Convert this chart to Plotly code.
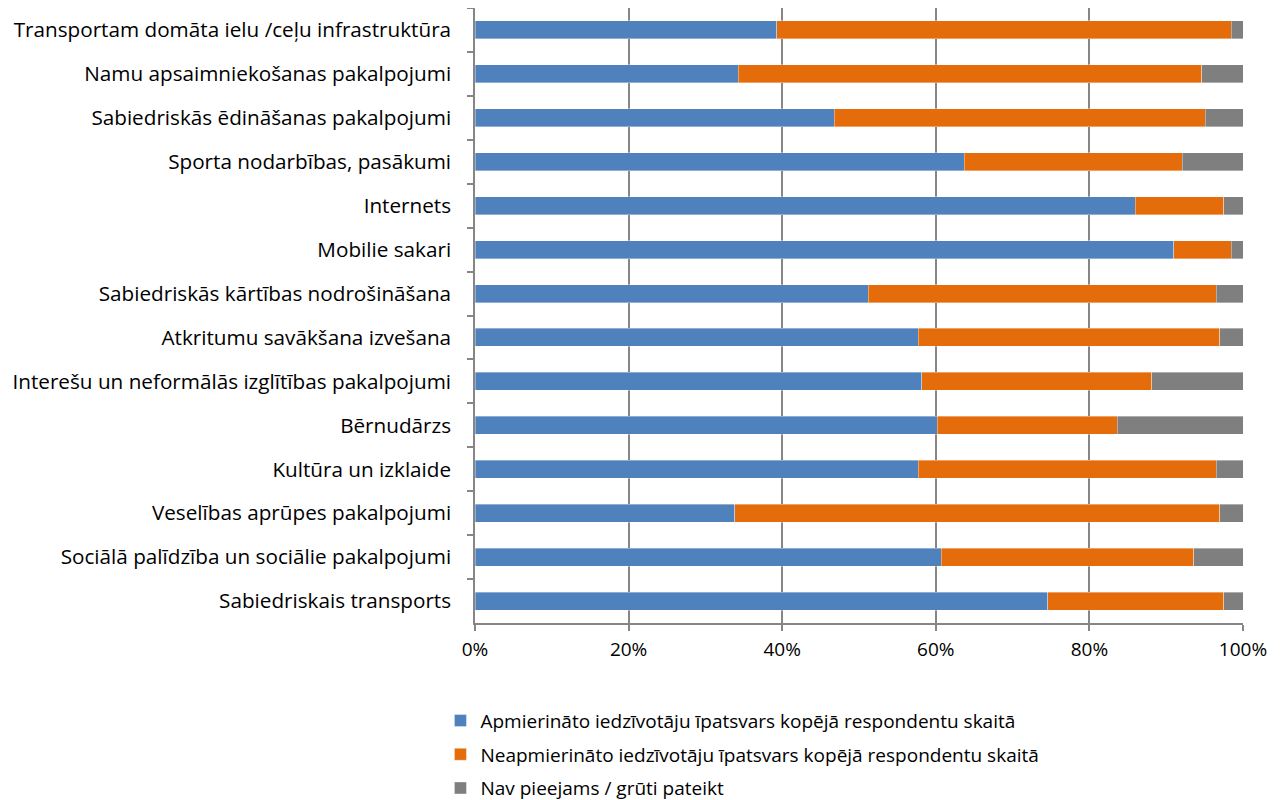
import plotly.graph_objects as go

categories = [
    "Transportam domāta ielu /ceļu infrastruktūra",
    "Namu apsaimniekošanas pakalpojumi",
    "Sabiedriskās ēdināšanas pakalpojumi",
    "Sporta nodarbības, pasākumi",
    "Internets",
    "Mobilie sakari",
    "Sabiedriskās kārtības nodrošināšana",
    "Atkritumu savākšana izvešana",
    "Interešu un neformālās izglītības pakalpojumi",
    "Bērnudārzs",
    "Kultūra un izklaide",
    "Veselības aprūpes pakalpojumi",
    "Sociālā palīdzība un sociālie pakalpojumi",
    "Sabiedriskais transports",
]

satisfied = [39.3, 34.3, 46.8, 63.7, 86.0, 91.0, 51.2, 57.7, 58.2, 60.2, 57.7, 33.8, 60.7, 74.6]
dissatisfied = [59.2, 60.3, 48.3, 28.4, 11.5, 7.5, 45.3, 39.3, 29.9, 23.4, 38.8, 63.2, 32.9, 22.9]
not_available = [1.5, 5.4, 4.9, 7.9, 2.5, 1.5, 3.5, 3.0, 11.9, 16.4, 3.5, 3.0, 6.4, 2.5]

series_names = [
    "Apmierināto iedzīvotāju īpatsvars kopējā respondentu skaitā",
    "Neapmierināto iedzīvotāju īpatsvars kopējā respondentu skaitā",
    "Nav pieejams / grūti pateikt",
]
colors = ["#4F81BD", "#E46C0A", "#7F7F7F"]
x_tickvals = [0, 20, 40, 60, 80, 100]
x_ticktext = ["0%", "20%", "40%", "60%", "80%", "100%"]

fig = go.Figure()
for name, vals, col in zip(series_names, [satisfied, dissatisfied, not_available], colors):
    fig.add_trace(go.Bar(
        y=categories, x=vals, name=name, orientation="h",
        marker=dict(color=col, line=dict(color="rgba(255,255,255,0.6)", width=0.6)),
        legendgroup=name,
    ))

font_family = "'Open Sans', sans-serif"
fig.update_layout(
    barmode="stack",
    bargap=0.59,
    width=1276, height=800,
    margin=dict(l=467, r=41, t=0, b=185),
    paper_bgcolor="white", plot_bgcolor="white",
    font=dict(family=font_family, size=19, color="#000000"),
    showlegend=True,
    legend=dict(
        orientation="v", traceorder="grouped", tracegroupgap=6,
        x=-0.045, xanchor="left", y=-0.128, yanchor="top",
        font=dict(size=19, color="#000000"),
        itemwidth=30,
    ),
)
fig.update_xaxes(
    range=[0, 100], tickvals=x_tickvals, ticktext=x_ticktext,
    showgrid=True, gridcolor="#868686", gridwidth=1.5,
    showline=True, linecolor="#868686", linewidth=1.5,
    ticks="outside", ticklen=6, tickcolor="#868686", tickwidth=1.5,
    zeroline=False, fixedrange=True, ticklabelstandoff=2, automargin=False,
)
fig.update_yaxes(
    autorange="reversed", type="category",
    showgrid=False, showline=True, linecolor="#868686", linewidth=1.5,
    ticks="outside", ticklen=6, tickcolor="#868686", tickwidth=1.5,
    tickson="boundaries", ticklabelstandoff=18, automargin=False,
    tickfont=dict(size=20.7),
)

fig.write_html("out.html")
